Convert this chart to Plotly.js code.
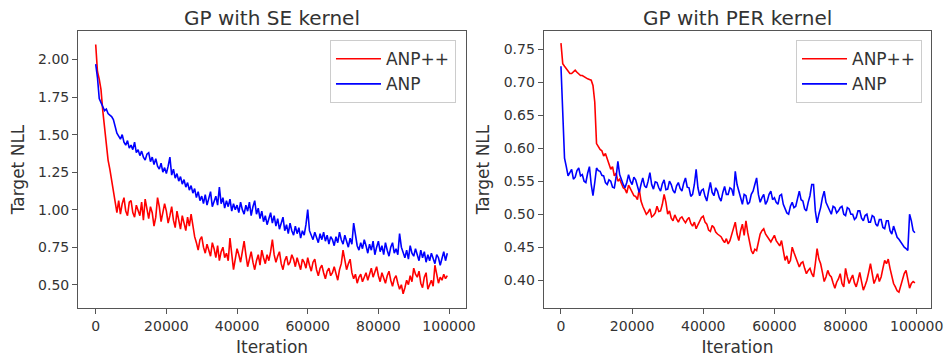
<!DOCTYPE html>
<html>
<head>
<meta charset="utf-8">
<script src="https://cdn.plot.ly/plotly-3.0.1.min.js"></script>
<style>html,body{margin:0;padding:0;background:#fff}#chart{width:947px;height:359px}</style>
</head>
<body>
<div id="chart"></div>
<script>
const iterations = [0,500,1000,1500,2000,2500,3000,3500,4000,4500,5000,5500,6000,6500,7000,7500,8000,8500,9000,9500,
10000,10500,11000,11500,12000,12500,13000,13500,14000,14500,15000,15500,16000,16500,17000,17500,18000,18500,19000,19500,
20000,20500,21000,21500,22000,22500,23000,23500,24000,24500,25000,25500,26000,26500,27000,27500,28000,28500,29000,29500,
30000,30500,31000,31500,32000,32500,33000,33500,34000,34500,35000,35500,36000,36500,37000,37500,38000,38500,39000,39500,
40000,40500,41000,41500,42000,42500,43000,43500,44000,44500,45000,45500,46000,46500,47000,47500,48000,48500,49000,49500,
50000,50500,51000,51500,52000,52500,53000,53500,54000,54500,55000,55500,56000,56500,57000,57500,58000,58500,59000,59500,
60000,60500,61000,61500,62000,62500,63000,63500,64000,64500,65000,65500,66000,66500,67000,67500,68000,68500,69000,69500,
70000,70500,71000,71500,72000,72500,73000,73500,74000,74500,75000,75500,76000,76500,77000,77500,78000,78500,79000,79500,
80000,80500,81000,81500,82000,82500,83000,83500,84000,84500,85000,85500,86000,86500,87000,87500,88000,88500,89000,89500,
90000,90500,91000,91500,92000,92500,93000,93500,94000,94500,95000,95500,96000,96500,97000,97500,98000,98500,99000,99500];

const seriesNames = ["ANP++", "ANP"];
const panelTitles = ["GP with SE kernel", "GP with PER kernel"];

const seAnpPP = [2.10,1.92,1.87,1.80,1.66,1.55,1.42,1.33,1.27,1.20,
1.12,1.05,0.98,1.06,0.97,1.04,1.08,0.99,0.96,1.05,
1.06,0.98,0.95,1.03,1.00,0.96,1.05,0.93,1.07,0.99,
0.94,1.02,0.98,0.89,0.95,1.08,1.02,0.92,0.97,1.04,
0.99,0.91,0.96,1.02,0.93,0.88,0.99,0.94,0.87,0.96,
0.91,0.86,0.95,0.89,0.97,0.88,0.82,0.78,0.73,0.80,
0.82,0.75,0.71,0.77,0.72,0.69,0.78,0.74,0.68,0.76,
0.66,0.72,0.75,0.68,0.71,0.66,0.81,0.72,0.60,0.67,
0.74,0.70,0.65,0.72,0.79,0.70,0.62,0.67,0.72,0.65,
0.60,0.66,0.70,0.63,0.73,0.68,0.64,0.70,0.66,0.72,
0.80,0.70,0.65,0.69,0.72,0.64,0.60,0.66,0.69,0.63,
0.65,0.70,0.67,0.62,0.68,0.64,0.60,0.67,0.65,0.61,
0.68,0.63,0.59,0.65,0.67,0.60,0.56,0.61,0.63,0.58,
0.54,0.59,0.61,0.56,0.58,0.62,0.57,0.53,0.60,0.64,
0.73,0.66,0.60,0.64,0.67,0.58,0.54,0.57,0.51,0.55,
0.57,0.52,0.55,0.58,0.53,0.57,0.61,0.55,0.59,0.62,
0.56,0.52,0.58,0.55,0.51,0.56,0.59,0.53,0.49,0.54,
0.56,0.51,0.47,0.50,0.44,0.48,0.53,0.50,0.56,0.52,
0.61,0.57,0.55,0.59,0.51,0.48,0.55,0.58,0.47,0.50,
0.53,0.49,0.63,0.57,0.51,0.55,0.53,0.57,0.54,0.56];

const seAnp = [1.97,1.88,1.74,1.71,1.69,1.66,1.67,1.64,1.63,1.62,
1.60,1.56,1.51,1.49,1.47,1.50,1.45,1.43,1.46,1.41,
1.43,1.40,1.45,1.38,1.40,1.36,1.39,1.35,1.33,1.37,
1.38,1.32,1.35,1.30,1.34,1.29,1.27,1.31,1.25,1.28,
1.24,1.29,1.35,1.23,1.27,1.21,1.24,1.19,1.22,1.17,
1.20,1.15,1.18,1.13,1.16,1.11,1.14,1.08,1.12,1.06,
1.09,1.04,1.10,1.03,1.07,1.12,1.02,1.06,1.09,1.03,
1.15,1.04,1.08,1.01,1.06,1.02,1.07,0.99,1.04,1.00,
1.03,0.98,1.05,1.00,0.97,1.03,0.99,1.05,0.96,1.02,
1.06,0.97,1.01,0.94,0.99,0.92,0.96,0.90,0.95,0.98,
0.91,0.96,0.89,0.94,0.87,0.92,0.95,0.86,0.90,0.84,
0.91,0.86,0.83,0.89,0.84,0.88,0.81,0.86,0.83,0.90,
1.00,0.86,0.83,0.80,0.85,0.82,0.78,0.84,0.80,0.85,
0.79,0.83,0.77,0.82,0.80,0.76,0.82,0.78,0.85,0.80,
0.77,0.83,0.79,0.75,0.81,0.77,0.91,0.82,0.76,0.73,
0.78,0.74,0.80,0.76,0.71,0.77,0.73,0.79,0.70,0.75,
0.79,0.72,0.76,0.70,0.78,0.73,0.69,0.75,0.78,0.71,
0.74,0.70,0.84,0.75,0.71,0.68,0.73,0.67,0.76,0.71,
0.69,0.74,0.70,0.66,0.73,0.68,0.72,0.65,0.70,0.66,
0.71,0.67,0.64,0.70,0.68,0.63,0.67,0.72,0.66,0.71];

const perAnpPP = [0.759,0.728,0.724,0.720,0.716,0.713,0.713,0.715,0.718,0.715,
0.712,0.710,0.710,0.708,0.707,0.705,0.704,0.703,0.695,0.670,
0.607,0.602,0.598,0.596,0.588,0.592,0.585,0.578,0.568,0.572,
0.558,0.562,0.550,0.553,0.545,0.540,0.538,0.532,0.544,0.538,
0.532,0.528,0.527,0.522,0.538,0.520,0.512,0.505,0.500,0.503,
0.508,0.496,0.498,0.502,0.512,0.504,0.505,0.515,0.530,0.518,
0.500,0.505,0.494,0.490,0.499,0.493,0.488,0.494,0.496,0.491,
0.487,0.492,0.495,0.486,0.482,0.488,0.478,0.484,0.490,0.495,
0.497,0.488,0.485,0.476,0.474,0.483,0.480,0.473,0.470,0.468,
0.466,0.461,0.457,0.463,0.455,0.460,0.470,0.478,0.488,0.470,
0.460,0.475,0.485,0.468,0.490,0.472,0.455,0.445,0.440,0.447,
0.445,0.458,0.470,0.475,0.478,0.470,0.465,0.462,0.458,0.463,
0.468,0.460,0.455,0.452,0.460,0.445,0.430,0.437,0.425,0.430,
0.450,0.442,0.435,0.428,0.420,0.426,0.428,0.418,0.410,0.415,
0.418,0.410,0.405,0.425,0.448,0.432,0.425,0.412,0.398,0.405,
0.415,0.408,0.405,0.396,0.388,0.397,0.402,0.410,0.395,0.390,
0.418,0.405,0.395,0.402,0.408,0.396,0.390,0.400,0.412,0.398,
0.385,0.392,0.400,0.412,0.425,0.410,0.395,0.402,0.410,0.398,
0.405,0.418,0.430,0.425,0.432,0.418,0.405,0.395,0.390,0.384,
0.382,0.392,0.400,0.410,0.415,0.402,0.388,0.395,0.398,0.396];

const perAnp = [0.724,0.640,0.585,0.572,0.558,0.563,0.568,0.553,0.556,0.566,
0.570,0.558,0.560,0.550,0.548,0.562,0.572,0.545,0.528,0.548,
0.570,0.566,0.565,0.559,0.558,0.548,0.545,0.552,0.550,0.541,
0.540,0.556,0.580,0.560,0.552,0.545,0.540,0.548,0.560,0.550,
0.545,0.556,0.552,0.540,0.533,0.545,0.555,0.543,0.540,0.550,
0.563,0.545,0.538,0.549,0.548,0.540,0.535,0.546,0.552,0.537,
0.538,0.550,0.545,0.536,0.532,0.543,0.548,0.539,0.535,0.547,
0.555,0.541,0.540,0.527,0.530,0.545,0.568,0.540,0.528,0.536,
0.538,0.527,0.520,0.535,0.548,0.533,0.528,0.540,0.535,0.525,
0.520,0.533,0.542,0.530,0.530,0.540,0.538,0.528,0.565,0.545,
0.535,0.522,0.515,0.530,0.528,0.515,0.518,0.530,0.535,0.545,
0.555,0.530,0.518,0.525,0.530,0.515,0.520,0.530,0.535,0.522,
0.525,0.518,0.515,0.528,0.530,0.515,0.508,0.502,0.500,0.512,
0.518,0.510,0.512,0.525,0.535,0.522,0.520,0.508,0.505,0.518,
0.528,0.545,0.545,0.505,0.487,0.500,0.510,0.525,0.535,0.518,
0.512,0.505,0.500,0.512,0.510,0.502,0.505,0.510,0.512,0.500,
0.498,0.510,0.508,0.500,0.500,0.492,0.495,0.505,0.505,0.494,
0.490,0.498,0.500,0.488,0.488,0.498,0.496,0.485,0.482,0.492,
0.492,0.480,0.478,0.490,0.490,0.475,0.470,0.482,0.475,0.465,
0.462,0.458,0.455,0.450,0.448,0.445,0.500,0.490,0.475,0.472];

const xTickVals = [0,20000,40000,60000,80000,100000];
const seYTicks = [0.50,0.75,1.00,1.25,1.50,1.75,2.00];
const perYTicks = [0.40,0.45,0.50,0.55,0.60,0.65,0.70,0.75];

const FONT = "DejaVu Sans, sans-serif";
const TXT = "#333333";
const AX = "#555555";

function lineTrace(x, y, name, color, xa, ya, leg) {
  return {x: x, y: y, name: name, type: "scatter", mode: "lines",
    line: {color: color, width: 1.6}, xaxis: xa, yaxis: ya, legend: leg};
}

const data = [
  lineTrace(iterations, seAnpPP, seriesNames[0], "#ff0000", "x", "y", "legend"),
  lineTrace(iterations, seAnp, seriesNames[1], "#0000ff", "x", "y", "legend"),
  lineTrace(iterations, perAnpPP, seriesNames[0], "#ff0000", "x2", "y2", "legend2"),
  lineTrace(iterations, perAnp, seriesNames[1], "#0000ff", "x2", "y2", "legend2")
];

function xAxis(domain, anchor, range) {
  return {domain: domain, anchor: anchor, range: range, showgrid: false, zeroline: false,
    showline: true, mirror: true, linecolor: AX, linewidth: 1,
    ticks: "outside", ticklen: 5, tickwidth: 1, tickcolor: AX,
    tickvals: xTickVals, tickformat: "d",
    tickfont: {family: FONT, size: 14, color: TXT},
    title: {text: "Iteration", font: {family: FONT, size: 17, color: TXT}, standoff: 8}};
}
function yAxis(anchor, range, vals) {
  return {domain: [0.1421, 0.9136], anchor: anchor, range: range, showgrid: false, zeroline: false,
    showline: true, mirror: true, linecolor: AX, linewidth: 1,
    ticks: "outside", ticklen: 5, tickwidth: 1, tickcolor: AX,
    tickvals: vals, tickformat: ".2f",
    tickfont: {family: FONT, size: 14, color: TXT},
    title: {text: "Target NLL", font: {family: FONT, size: 17, color: TXT}, standoff: 9}};
}

function legendCfg(xRight) {
  return {x: xRight, xanchor: "right", y: 0.888, yanchor: "top",
    bgcolor: "rgba(255,255,255,0.8)", bordercolor: "#cccccc", borderwidth: 1,
    font: {family: FONT, size: 17, color: TXT}, tracegroupgap: 0, itemwidth: 45};
}

const layout = {
  width: 947, height: 359,
  margin: {l: 0, r: 0, t: 0, b: 0},
  paper_bgcolor: "#ffffff", plot_bgcolor: "#ffffff",
  font: {family: FONT, color: TXT},
  showlegend: true,
  xaxis: xAxis([0.0824, 0.4921], "y", [-5000, 104800]),
  yaxis: yAxis("x", [0.345, 2.19], seYTicks),
  xaxis2: xAxis([0.5741, 0.9834], "y2", [-4860, 104100]),
  yaxis2: yAxis("x2", [0.358, 0.7774], perYTicks),
  legend: legendCfg(0.4815),
  legend2: legendCfg(0.9736),
  annotations: [
    {text: panelTitles[0], xref: "paper", yref: "paper", x: 0.2872, y: 0.951, xanchor: "center", yanchor: "middle", showarrow: false, font: {family: FONT, size: 20, color: TXT}},
    {text: panelTitles[1], xref: "paper", yref: "paper", x: 0.7788, y: 0.951, xanchor: "center", yanchor: "middle", showarrow: false, font: {family: FONT, size: 20, color: TXT}}
  ]
};

Plotly.newPlot("chart", data, layout, {staticPlot: true, displayModeBar: false});
</script>
</body>
</html>
